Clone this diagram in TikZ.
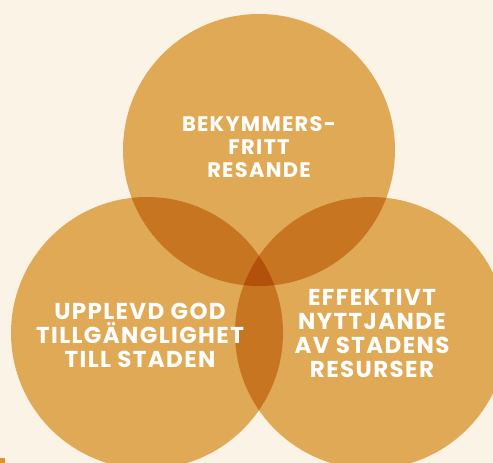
\documentclass[tikz,border=0pt]{standalone}
\usepackage{fontspec}
\setsansfont{Poppins}
\newfontfamily\widesans[LetterSpace=6]{Poppins}
\definecolor{paper}{RGB}{252,243,231}
\definecolor{ochre}{RGB}{227,178,96}
\definecolor{tab}{RGB}{224,144,48}
\begin{document}
\begin{tikzpicture}[x=1pt,y=-1pt,
    ring/.style={circle,fill=ochre,minimum size=272pt,inner sep=0pt,blend mode=multiply},
    caption/.style={text=white,align=center,inner sep=0pt,
        font=\widesans\bfseries\fontsize{23}{24}\selectfont}]
    \fill[paper] (0,0) rectangle (493,463);
    \useasboundingbox (0,0) rectangle (493,463);
    \fill[tab] (0,458) rectangle (5,463);
    % the three circles
    \node[ring] (top) at (259,150) {};
    \node[ring] (left) at (147,333) {};
    \node[ring] (right) at (371,333) {};
    % their texts
    \node[caption,font=\widesans\bfseries\fontsize{21}{23}\selectfont] (topText) at ([yshift=3pt]top) {BEKYMMERS-\\FRITT\\RESANDE};
    \node[caption] (leftText) at ([xshift=-7pt,yshift=-2pt]left) {UPPLEVD GOD\\TILLGÄNGLIGHET\\TILL STADEN};
    \node[caption] (rightText) at ([xshift=1pt,yshift=-1pt]right) {EFFEKTIVT\\NYTTJANDE\\AV STADENS\\RESURSER};
\end{tikzpicture}
\end{document}
